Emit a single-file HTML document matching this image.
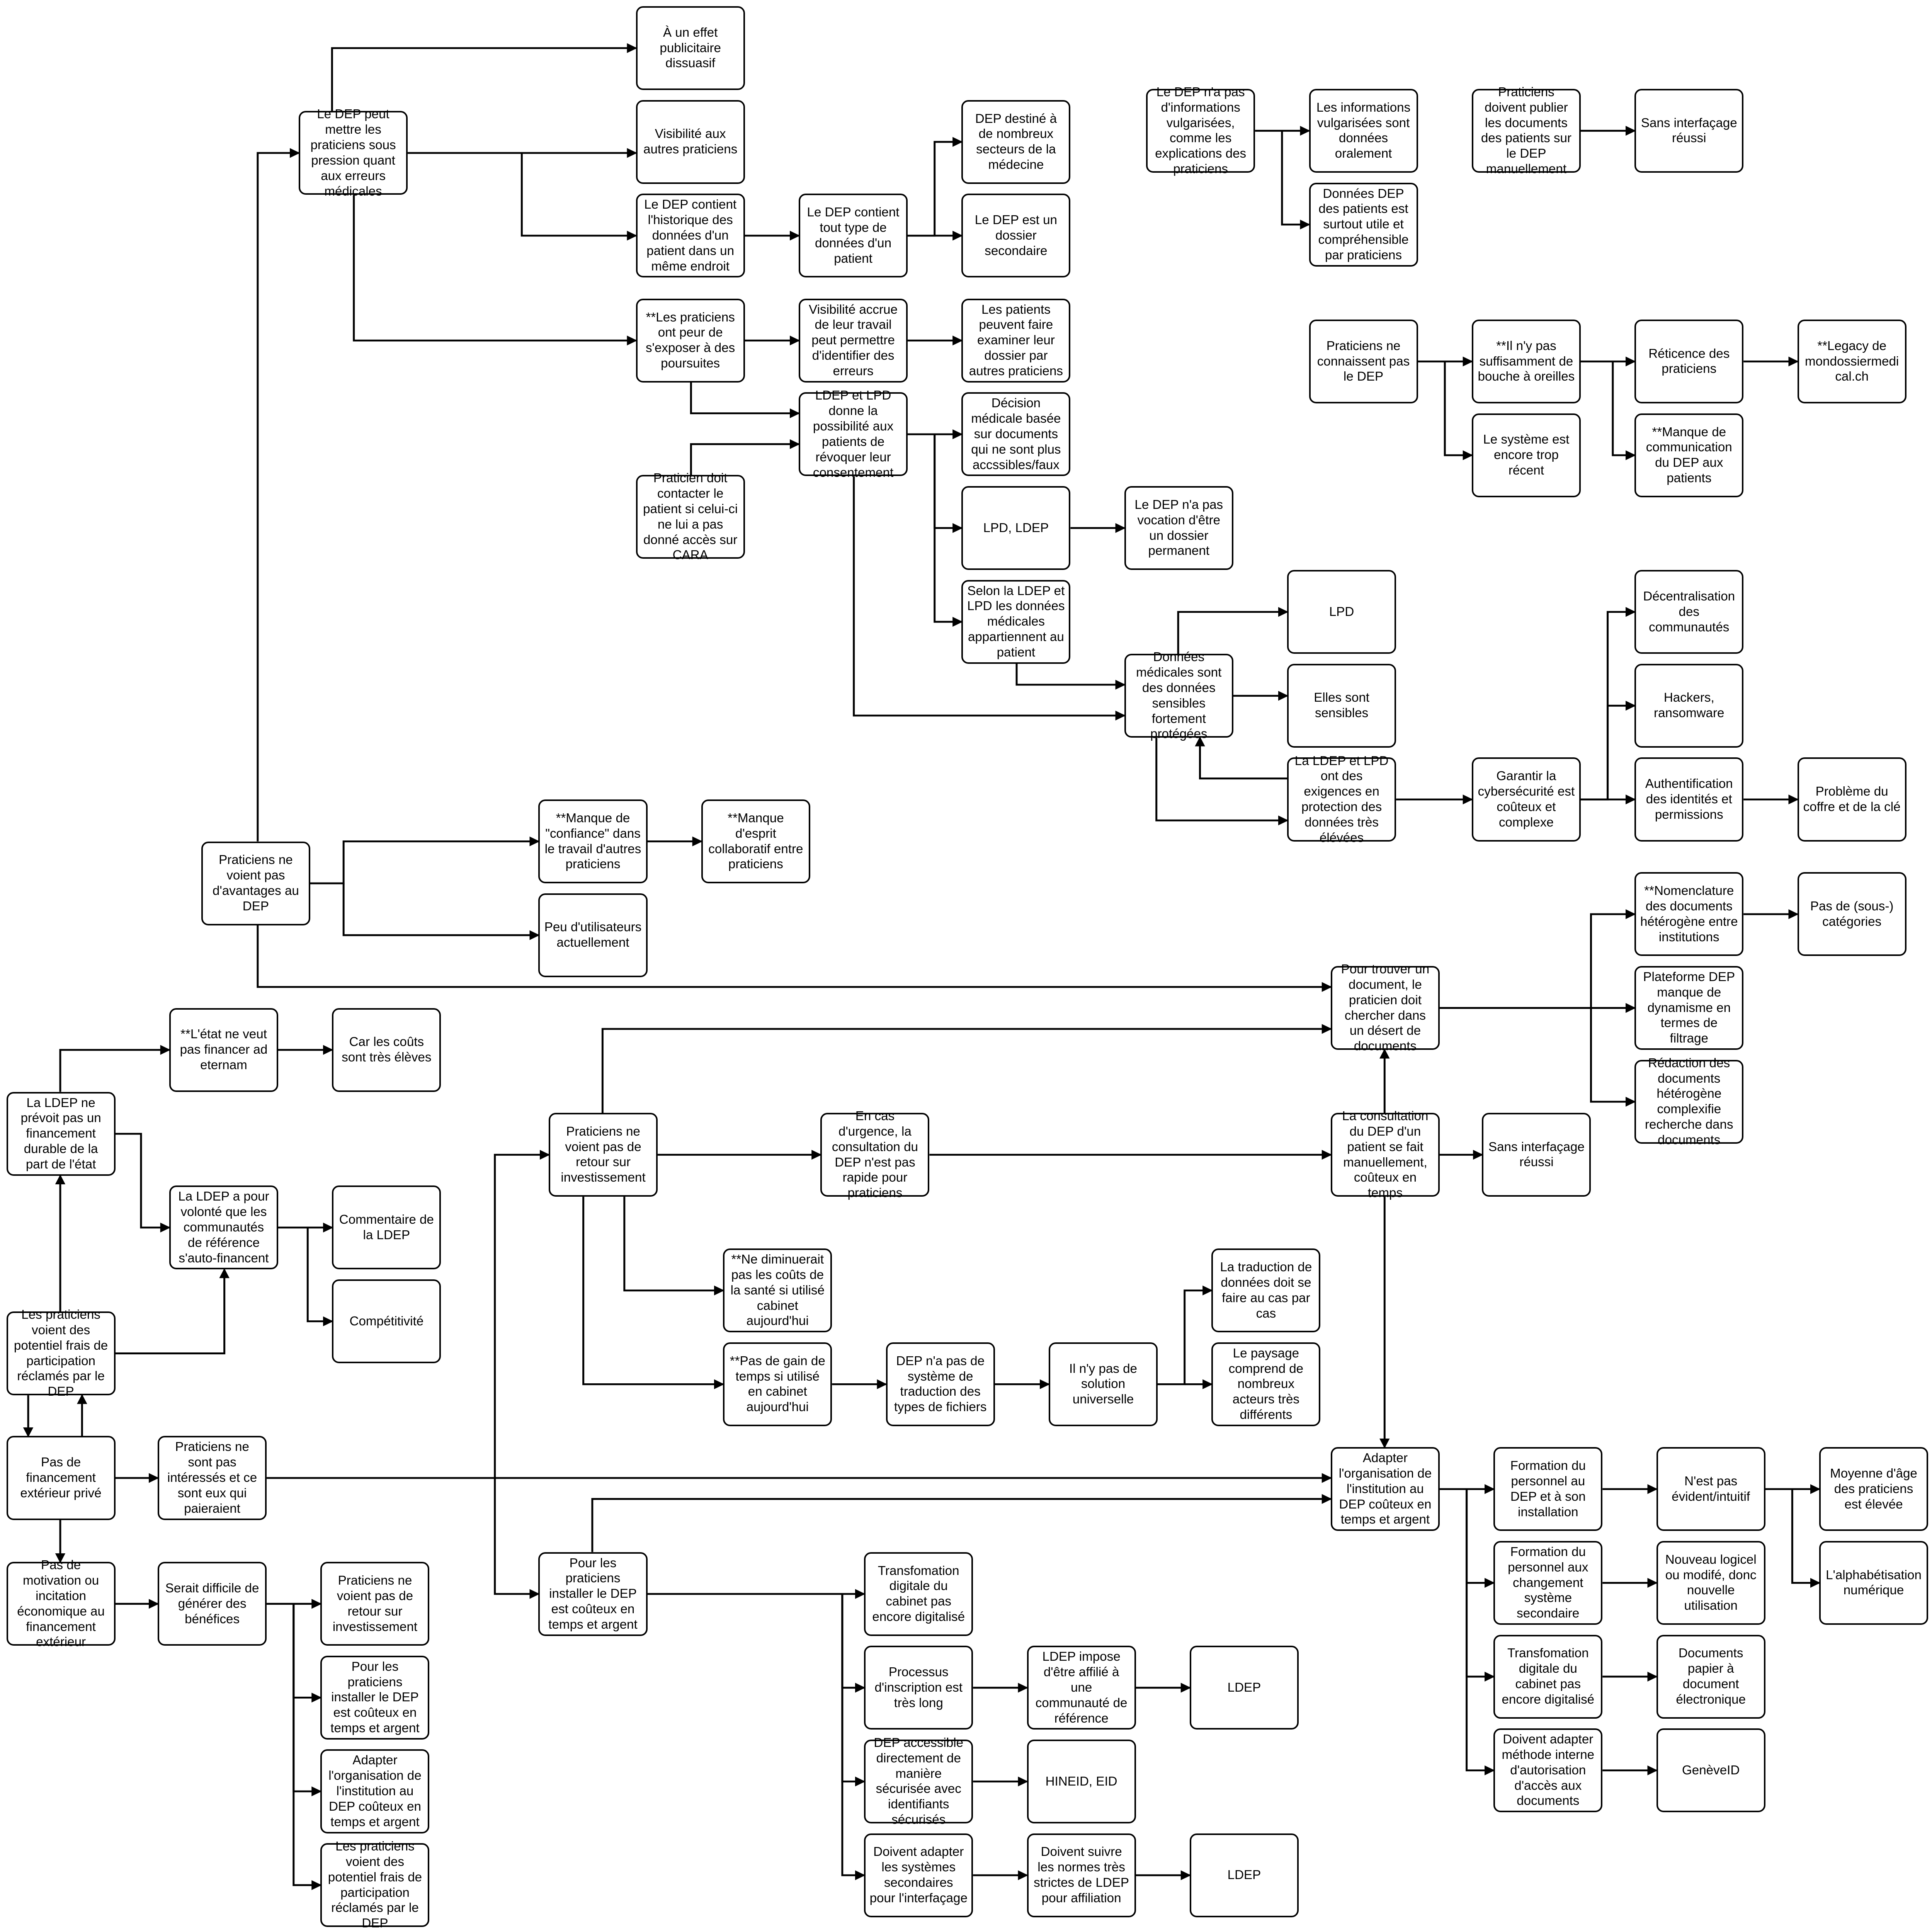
<!DOCTYPE html>
<html><head><meta charset="utf-8"><style>
html,body{margin:0;padding:0;background:#fff;width:100vw;height:100vh;overflow:hidden;}
#c{position:relative;width:100vw;height:100vh;overflow:hidden;}
.b{position:absolute;left:calc(var(--x)*100vw/1507);top:calc(var(--y)*100vh/1566);width:calc(85*100vw/1507);height:calc(68*100vh/1566);border:calc(1.4*100vw/1507) solid #000;border-radius:calc(5.5*100vw/1507);box-sizing:border-box;display:flex;align-items:center;justify-content:center;text-align:center;font-family:"Liberation Sans",sans-serif;font-size:calc(10*100vw/1507);line-height:calc(12*100vw/1507);padding:0 calc(3*100vw/1507);background:#fff;color:#000;overflow-wrap:anywhere;}
svg{position:absolute;left:0;top:0;width:100vw;height:100vh;}
</style></head><body><div id="c">
<svg viewBox="0 0 1507 1566" preserveAspectRatio="none">
<defs><marker id="a" markerWidth="8" markerHeight="8" refX="7" refY="4" orient="auto" markerUnits="userSpaceOnUse"><path d="M0,0 L8,4 L0,8 z" fill="#000"/></marker></defs>
<g fill="none" stroke="#000" stroke-width="1.5" marker-end="url(#a)">
<path d="M201 682 V124 H233"/>
<path d="M259 90 V39 H496"/>
<path d="M318 124 H496"/>
<path d="M407 124 V191 H496"/>
<path d="M276 158 V276 H496"/>
<path d="M581 191 H623"/>
<path d="M708 191 H729 V115 H750"/>
<path d="M708 191 H750"/>
<path d="M581 276 H623"/>
<path d="M708 276 H750"/>
<path d="M539 310 V335 H623"/>
<path d="M539 385 V360 H623"/>
<path d="M708 352 H750"/>
<path d="M729 352 V428 H750"/>
<path d="M729 352 V504 H750"/>
<path d="M835 428 H877"/>
<path d="M793 538 V555 H877"/>
<path d="M666 386 V580 H877"/>
<path d="M919 530 V496 H1004"/>
<path d="M962 564 H1004"/>
<path d="M1004 631 H936 V598"/>
<path d="M902 598 V665 H1004"/>
<path d="M1089 648 H1148"/>
<path d="M1233 648 H1254 V496 H1275"/>
<path d="M1254 648 V572 H1275"/>
<path d="M1233 648 H1275"/>
<path d="M1360 648 H1402"/>
<path d="M979 106 H1021"/>
<path d="M1000 106 V182 H1021"/>
<path d="M1233 106 H1275"/>
<path d="M1106 293 H1148"/>
<path d="M1127 293 V369 H1148"/>
<path d="M1233 293 H1275"/>
<path d="M1258 293 V369 H1275"/>
<path d="M1360 293 H1402"/>
<path d="M242 716 H268 V682 H420"/>
<path d="M268 716 V758 H420"/>
<path d="M505 682 H547"/>
<path d="M201 750 V800 H1038"/>
<path d="M1123 817 H1241 V741 H1275"/>
<path d="M1241 817 H1275"/>
<path d="M1241 817 V893 H1275"/>
<path d="M1360 741 H1402"/>
<path d="M470 902 V834 H1038"/>
<path d="M513 936 H640"/>
<path d="M725 936 H1038"/>
<path d="M1080 902 V851"/>
<path d="M1123 936 H1156"/>
<path d="M1080 970 V1173"/>
<path d="M487 970 V1046 H564"/>
<path d="M455 970 V1122 H564"/>
<path d="M649 1122 H691"/>
<path d="M776 1122 H818"/>
<path d="M903 1122 H924 V1046 H945"/>
<path d="M924 1122 H945"/>
<path d="M217 851 H259"/>
<path d="M47 885 V851 H132"/>
<path d="M90 919 H110 V995 H132"/>
<path d="M217 995 H259"/>
<path d="M240 995 V1071 H259"/>
<path d="M47 1063 V953"/>
<path d="M90 1097 H175 V1029"/>
<path d="M22 1131 V1164"/>
<path d="M64 1164 V1131"/>
<path d="M90 1198 H123"/>
<path d="M208 1198 H1038"/>
<path d="M386 1198 V936 H428"/>
<path d="M386 1198 V1292 H420"/>
<path d="M47 1232 V1266"/>
<path d="M90 1300 H123"/>
<path d="M208 1300 H250"/>
<path d="M229 1300 V1376 H250"/>
<path d="M229 1300 V1452 H250"/>
<path d="M229 1300 V1528 H250"/>
<path d="M462 1258 V1215 H1038"/>
<path d="M505 1292 H674"/>
<path d="M657 1292 V1368 H674"/>
<path d="M657 1292 V1444 H674"/>
<path d="M657 1292 V1520 H674"/>
<path d="M759 1368 H801"/>
<path d="M886 1368 H928"/>
<path d="M759 1444 H801"/>
<path d="M759 1520 H801"/>
<path d="M886 1520 H928"/>
<path d="M1123 1207 H1165"/>
<path d="M1144 1207 V1283 H1165"/>
<path d="M1144 1207 V1359 H1165"/>
<path d="M1144 1207 V1435 H1165"/>
<path d="M1250 1207 H1292"/>
<path d="M1377 1207 H1419"/>
<path d="M1398 1207 V1283 H1419"/>
<path d="M1250 1283 H1292"/>
<path d="M1250 1359 H1292"/>
<path d="M1250 1435 H1292"/>
</g></svg>
<div class="b" style="--x:496;--y:5">À un effet publicitaire dissuasif</div>
<div class="b" style="--x:496;--y:81">Visibilité aux autres praticiens</div>
<div class="b" style="--x:233;--y:90">Le DEP peut mettre les praticiens sous pression quant aux erreurs médicales</div>
<div class="b" style="--x:496;--y:157">Le DEP contient l'historique des données d'un patient dans un même endroit</div>
<div class="b" style="--x:623;--y:157">Le DEP contient tout type de données d'un patient</div>
<div class="b" style="--x:750;--y:81">DEP destiné à de nombreux secteurs de la médecine</div>
<div class="b" style="--x:750;--y:157">Le DEP est un dossier secondaire</div>
<div class="b" style="--x:496;--y:242">**Les praticiens ont peur de s'exposer à des poursuites</div>
<div class="b" style="--x:623;--y:242">Visibilité accrue de leur travail peut permettre d'identifier des erreurs</div>
<div class="b" style="--x:750;--y:242">Les patients peuvent faire examiner leur dossier par autres praticiens</div>
<div class="b" style="--x:623;--y:318">LDEP et LPD donne la possibilité aux patients de révoquer leur consentement</div>
<div class="b" style="--x:750;--y:318">Décision médicale basée sur documents qui ne sont plus accssibles/faux</div>
<div class="b" style="--x:496;--y:385">Praticien doit contacter le patient si celui-ci ne lui a pas donné accès sur CARA</div>
<div class="b" style="--x:750;--y:394">LPD, LDEP</div>
<div class="b" style="--x:877;--y:394">Le DEP n'a pas vocation d'être un dossier permanent</div>
<div class="b" style="--x:750;--y:470">Selon la LDEP et LPD les données médicales appartiennent au patient</div>
<div class="b" style="--x:877;--y:530">Données médicales sont des données sensibles fortement protégées</div>
<div class="b" style="--x:1004;--y:462">LPD</div>
<div class="b" style="--x:1004;--y:538">Elles sont sensibles</div>
<div class="b" style="--x:1004;--y:614">La LDEP et LPD ont des exigences en protection des données très élévées</div>
<div class="b" style="--x:1148;--y:614">Garantir la cybersécurité est coûteux et complexe</div>
<div class="b" style="--x:1275;--y:462">Décentralisation des communautés</div>
<div class="b" style="--x:1275;--y:538">Hackers, ransomware</div>
<div class="b" style="--x:1275;--y:614">Authentification des identités et permissions</div>
<div class="b" style="--x:1402;--y:614">Problème du coffre et de la clé</div>
<div class="b" style="--x:894;--y:72">Le DEP n'a pas d'informations vulgarisées, comme les explications des praticiens</div>
<div class="b" style="--x:1021;--y:72">Les informations vulgarisées sont données oralement</div>
<div class="b" style="--x:1021;--y:148">Données DEP des patients est surtout utile et compréhensible par praticiens</div>
<div class="b" style="--x:1148;--y:72">Praticiens doivent publier les documents des patients sur le DEP manuellement</div>
<div class="b" style="--x:1275;--y:72">Sans interfaçage réussi</div>
<div class="b" style="--x:1021;--y:259">Praticiens ne connaissent pas le DEP</div>
<div class="b" style="--x:1148;--y:259">**Il n'y pas suffisamment de bouche à oreilles</div>
<div class="b" style="--x:1148;--y:335">Le système est encore trop récent</div>
<div class="b" style="--x:1275;--y:259">Réticence des praticiens</div>
<div class="b" style="--x:1275;--y:335">**Manque de communication du DEP aux patients</div>
<div class="b" style="--x:1402;--y:259">**Legacy de mondossiermedical.ch</div>
<div class="b" style="--x:157;--y:682">Praticiens ne voient pas d'avantages au DEP</div>
<div class="b" style="--x:420;--y:648">**Manque de "confiance" dans le travail d'autres praticiens</div>
<div class="b" style="--x:547;--y:648">**Manque d'esprit collaboratif entre praticiens</div>
<div class="b" style="--x:420;--y:724">Peu d'utilisateurs actuellement</div>
<div class="b" style="--x:1275;--y:707">**Nomenclature des documents hétérogène entre institutions</div>
<div class="b" style="--x:1402;--y:707">Pas de (sous-) catégories</div>
<div class="b" style="--x:1275;--y:783">Plateforme DEP manque de dynamisme en termes de filtrage</div>
<div class="b" style="--x:1275;--y:859">Rédaction des documents hétérogène complexifie recherche dans documents</div>
<div class="b" style="--x:1038;--y:783">Pour trouver un document, le praticien doit chercher dans un désert de documents</div>
<div class="b" style="--x:132;--y:817">**L'état ne veut pas financer ad eternam</div>
<div class="b" style="--x:259;--y:817">Car les coûts sont très élèves</div>
<div class="b" style="--x:5;--y:885">La LDEP ne prévoit pas un financement durable de la part de l'état</div>
<div class="b" style="--x:132;--y:961">La LDEP a pour volonté que les communautés de référence s'auto-financent</div>
<div class="b" style="--x:259;--y:961">Commentaire de la LDEP</div>
<div class="b" style="--x:259;--y:1037">Compétitivité</div>
<div class="b" style="--x:5;--y:1063">Les praticiens voient des potentiel frais de participation réclamés par le DEP</div>
<div class="b" style="--x:5;--y:1164">Pas de financement extérieur privé</div>
<div class="b" style="--x:123;--y:1164">Praticiens ne sont pas intéressés et ce sont eux qui paieraient</div>
<div class="b" style="--x:5;--y:1266">Pas de motivation ou incitation économique au financement extérieur</div>
<div class="b" style="--x:123;--y:1266">Serait difficile de générer des bénéfices</div>
<div class="b" style="--x:250;--y:1266">Praticiens ne voient pas de retour sur investissement</div>
<div class="b" style="--x:250;--y:1342">Pour les praticiens installer le DEP est coûteux en temps et argent</div>
<div class="b" style="--x:250;--y:1418">Adapter l'organisation de l'institution au DEP coûteux en temps et argent</div>
<div class="b" style="--x:250;--y:1494">Les praticiens voient des potentiel frais de participation réclamés par le DEP</div>
<div class="b" style="--x:428;--y:902">Praticiens ne voient pas de retour sur investissement</div>
<div class="b" style="--x:640;--y:902">En cas d'urgence, la consultation du DEP n'est pas rapide pour praticiens</div>
<div class="b" style="--x:1038;--y:902">La consultation du DEP d'un patient se fait manuellement, coûteux en temps</div>
<div class="b" style="--x:1156;--y:902">Sans interfaçage réussi</div>
<div class="b" style="--x:564;--y:1012">**Ne diminuerait pas les coûts de la santé si utilisé cabinet aujourd'hui</div>
<div class="b" style="--x:564;--y:1088">**Pas de gain de temps si utilisé en cabinet aujourd'hui</div>
<div class="b" style="--x:691;--y:1088">DEP n'a pas de système de traduction des types de fichiers</div>
<div class="b" style="--x:818;--y:1088">Il n'y pas de solution universelle</div>
<div class="b" style="--x:945;--y:1012">La traduction de données doit se faire au cas par cas</div>
<div class="b" style="--x:945;--y:1088">Le paysage comprend de nombreux acteurs très différents</div>
<div class="b" style="--x:1038;--y:1173">Adapter l'organisation de l'institution au DEP coûteux en temps et argent</div>
<div class="b" style="--x:1165;--y:1173">Formation du personnel au DEP et à son installation</div>
<div class="b" style="--x:1292;--y:1173">N'est pas évident/intuitif</div>
<div class="b" style="--x:1419;--y:1173">Moyenne d'âge des praticiens est élevée</div>
<div class="b" style="--x:1419;--y:1249">L'alphabétisation numérique</div>
<div class="b" style="--x:1165;--y:1249">Formation du personnel aux changement système secondaire</div>
<div class="b" style="--x:1292;--y:1249">Nouveau logicel ou modifé, donc nouvelle utilisation</div>
<div class="b" style="--x:1165;--y:1325">Transfomation digitale du cabinet pas encore digitalisé</div>
<div class="b" style="--x:1292;--y:1325">Documents papier à document électronique</div>
<div class="b" style="--x:1165;--y:1401">Doivent adapter méthode interne d'autorisation d'accès aux documents</div>
<div class="b" style="--x:1292;--y:1401">GenèveID</div>
<div class="b" style="--x:420;--y:1258">Pour les praticiens installer le DEP est coûteux en temps et argent</div>
<div class="b" style="--x:674;--y:1258">Transfomation digitale du cabinet pas encore digitalisé</div>
<div class="b" style="--x:674;--y:1334">Processus d'inscription est très long</div>
<div class="b" style="--x:801;--y:1334">LDEP impose d'être affilié à une communauté de référence</div>
<div class="b" style="--x:928;--y:1334">LDEP</div>
<div class="b" style="--x:674;--y:1410">DEP accessible directement de manière sécurisée avec identifiants sécurisés</div>
<div class="b" style="--x:801;--y:1410">HINEID, EID</div>
<div class="b" style="--x:674;--y:1486">Doivent adapter les systèmes secondaires pour l'interfaçage</div>
<div class="b" style="--x:801;--y:1486">Doivent suivre les normes très strictes de LDEP pour affiliation</div>
<div class="b" style="--x:928;--y:1486">LDEP</div>
</div></body></html>
